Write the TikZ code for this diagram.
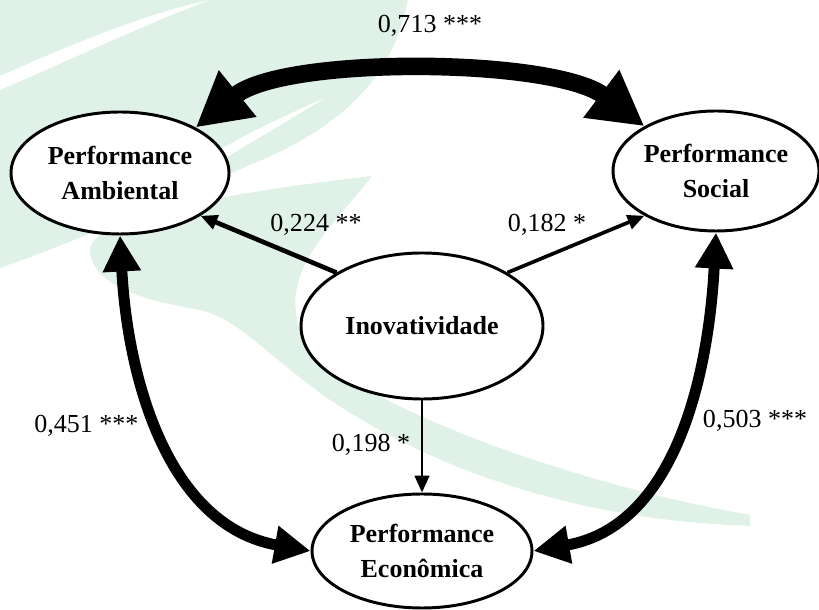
\documentclass[tikz,border=0pt]{standalone}
\usepackage{fontspec}
\setmainfont{Liberation Serif}
\usepackage{tikz}
\usetikzlibrary{arrows.meta,shapes,positioning}
\definecolor{leafgreen}{RGB}{224,242,231}
\tikzstyle{construct} = [ellipse, draw=black, line width=2.1pt, fill=white, inner sep=0pt, align=center, font=\fontsize{18.5}{25}\selectfont\bfseries]
\tikzstyle{coef} = [anchor=base, font=\fontsize{18.5}{22}\selectfont]
\tikzstyle{bigcov} = [line width=12.5pt, {Triangle[length=1.35cm,width=1.4cm]}-{Triangle[length=1.35cm,width=1.4cm]}]
\tikzstyle{covarrow} = [line width=7.8pt, {Triangle[length=0.9cm,width=0.9cm]}-{Triangle[length=0.9cm,width=0.9cm]}]
\tikzstyle{regarrow} = [-{Triangle[length=0.42cm,width=0.36cm]}]

\begin{document}
\begin{tikzpicture}
\useasboundingbox (0,0) rectangle (20.475,15.25);

% leaf in the background
\begin{scope}[yshift=15.25cm, x=0.025cm, y=-0.025cm]
\fill[leafgreen] (0,0) -- (408,0) .. controls (395,70) and (350,125) .. (250,165)
  .. controls (170,200) and (80,240) .. (0,268) -- cycle;
\fill[white] (0,76) .. controls (70,45) and (150,12) .. (210,0)
  .. controls (150,22) and (70,60) .. (0,90) -- cycle;
\fill[white] (150,192) .. controls (210,152) and (270,122) .. (325,98)
  .. controls (270,132) and (210,166) .. (160,198) -- cycle;
\fill[leafgreen] (90,250) .. controls (90,215) and (250,190) .. (372,176)
  .. controls (330,230) and (280,270) .. (300,330)
  .. controls (320,390) and (550,480) .. (750,515) -- (750,526)
  .. controls (560,520) and (420,460) .. (330,400)
  .. controls (260,350) and (240,320) .. (200,310)
  .. controls (140,300) and (92,285) .. (90,250) -- cycle;
\end{scope}

% constructs
\node[construct, minimum width=5.45cm, minimum height=3.05cm] (amb) at (3.0, 10.925) {Performance\\Ambiental};
\node[construct, minimum width=5.15cm, minimum height=3.0cm] (soc) at (17.9, 10.975) {Performance\\Social};
\node[construct, minimum width=6.05cm, minimum height=3.65cm] (inov) at (10.55, 7.1) {Inovatividade};
\node[construct, minimum width=5.5cm, minimum height=2.85cm] (eco) at (10.55, 1.475) {Performance\\Econômica};

% correlations
\draw[bigcov] (amb.31) to[out=39, in=143, looseness=0.65] (soc.148);
\draw[covarrow] (amb.south) to[out=-87, in=170] (eco.west);
\draw[covarrow] (soc.south) to[out=-93, in=10] (eco.east);

% paths from Inovatividade
\draw[regarrow, line width=3.3pt] (inov.148) -- (amb.-28);
\draw[regarrow, line width=2.6pt] (inov.32) -- (soc.-148);
\draw[regarrow, line width=2.1pt] (inov.south) -- (eco.north);

% coefficients
\node[coef] (c713) at (10.75, 14.425) {0,713 ***};
\node[coef] (c224) at (7.9, 9.45) {0,224 **};
\node[coef] (c182) at (13.675, 9.45) {0,182 *};
\node[coef] (c451) at (2.16, 4.425) {0,451 ***};
\node[coef] (c198) at (9.275, 3.95) {0,198 *};
\node[coef] (c503) at (18.875, 4.55) {0,503 ***};
\end{tikzpicture}
\end{document}
